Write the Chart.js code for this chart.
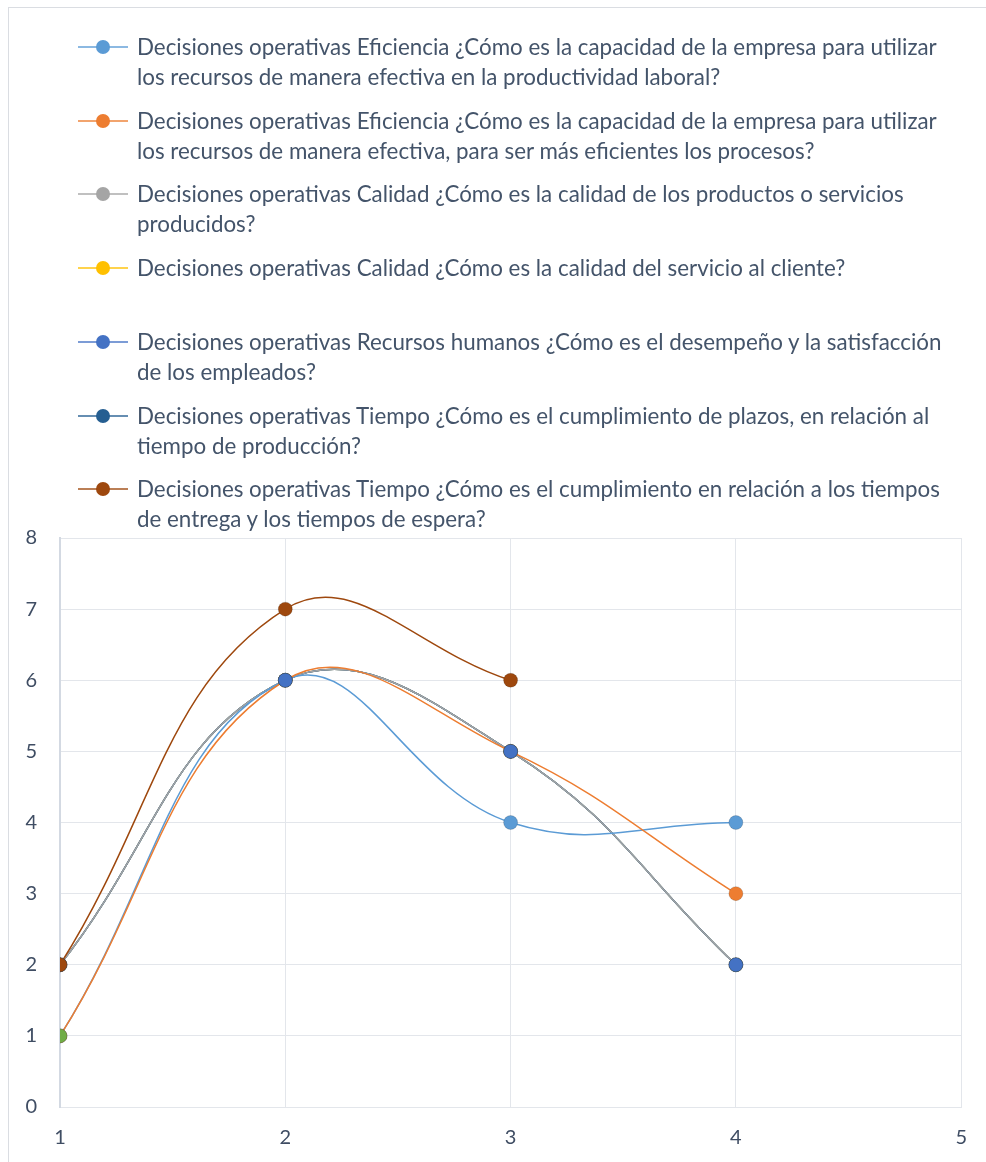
<!DOCTYPE html>
<html lang="es">
<head>
  <meta charset="UTF-8" />
  <title>Decisiones operativas</title>
  <script src="https://cdn.jsdelivr.net/npm/chart.js"></script>
  <style>
    body { margin: 0; background: #fff; font-family: Lato, 'Open Sans', sans-serif; }
    #wrap { position: relative; width: 986px; height: 1162px; overflow: hidden; }
    #frame { position: absolute; left: 8px; top: 7px; width: 1000px; height: 1200px; border: 1px solid #dadde2; }
    #chart { position: absolute; left: 0; top: 0; }
    .item { position: absolute; left: 0; width: 986px; }
    .mk { position: absolute; left: 78px; width: 50px; height: 2px; }
    .dot { position: absolute; left: 96px; width: 14px; height: 14px; border-radius: 50%; }
    .txt { position: absolute; left: 137px; color: #44546A; line-height: 30px; white-space: pre; }
  </style>
</head>
<body>
<div id="wrap">
  <div id="frame"></div>
  <canvas id="chart" width="986" height="1162"></canvas>
  <div id="legend"></div>
</div>
<script>
  // Eje X y series
  const xValues = [1, 2, 3, 4];
  const etiquetas = [
    'Decisiones operativas Eficiencia ¿Cómo es la capacidad de la empresa para utilizar\nlos recursos de manera efectiva en la productividad laboral?',
    'Decisiones operativas Eficiencia ¿Cómo es la capacidad de la empresa para utilizar\nlos recursos de manera efectiva, para ser más eficientes los procesos?',
    'Decisiones operativas Calidad ¿Cómo es la calidad de los productos o servicios\nproducidos?',
    'Decisiones operativas Calidad ¿Cómo es la calidad del servicio al cliente?',
    'Decisiones operativas Recursos humanos ¿Cómo es el desempeño y la satisfacción\nde los empleados?',
    'Decisiones operativas Tiempo ¿Cómo es el cumplimiento de plazos, en relación al\ntiempo de producción?',
    'Decisiones operativas Tiempo ¿Cómo es el cumplimiento en relación a los tiempos\nde entrega y los tiempos de espera?'
  ];
  const prodLaboral = [1, 6, 4, 4];
  const procesos = [1, 6, 5, 3];
  const calidadProductos = [2, 6, 5, 2];
  const calidadServicio = [2, 6, 5, 2];
  const recursosHumanos = [2, 6, 5, 2];
  const plazos = [2, 6, 5, 2];
  const entregaEspera = [2, 7, 6];
  const serieExtra = [1];  // punto verde sin leyenda

  const series = [prodLaboral, procesos, calidadProductos, calidadServicio, recursosHumanos, plazos, entregaEspera, serieExtra];
  const colores = ['#5B9BD5', '#ED7D31', '#A5A5A5', '#FFC000', '#4472C4', '#255E91', '#9E480E', '#70AD47'];
  const yTicks = [0, 1, 2, 3, 4, 5, 6, 7, 8];
  const xTicks = [1, 2, 3, 4, 5];
  // orden de dibujo (de abajo hacia arriba)
  const ordenLineas = [3, 4, 5, 2, 6, 0, 1, 7];
  const ordenMarcadores = [0, 1, 2, 3, 5, 4, 6, 7];

  const puntos = vals => vals.map((v, j) => ({ x: xValues[j], y: v }));

  // primero todas las líneas, luego los marcadores
  const lineas = series.map((vals, i) => ({
    data: puntos(vals),
    borderColor: colores[i],
    borderWidth: 1.5,
    pointRadius: 0,
    showLine: true,
    tension: 0.42,
    order: 100 - ordenLineas.indexOf(i)
  }));
  const marcadores = series.map((vals, i) => ({
    data: puntos(vals),
    showLine: false,
    pointRadius: 7,
    pointBackgroundColor: colores[i],
    pointBorderColor: 'rgba(0,0,0,0.15)',
    pointBorderWidth: 1,
    order: 50 - ordenMarcadores.indexOf(i)
  }));

  new Chart(document.getElementById('chart'), {
    type: 'scatter',
    data: { datasets: [...lineas, ...marcadores] },
    options: {
      responsive: false,
      animation: false,
      layout: { padding: { top: 538, right: 24, left: 0, bottom: 0 } },
      plugins: { legend: { display: false }, tooltip: { enabled: false } },
      scales: {
        x: {
          type: 'linear', min: 1, max: 5,
          afterFit: s => { s.height = 55; },
          afterBuildTicks: s => { s.ticks = xTicks.map(v => ({ value: v })); },
          grid: { color: '#E3E6EB', drawTicks: false },
          border: { color: '#E3E6EB' },
          ticks: { color: '#3F4D63', font: { family: 'Lato', size: 20 }, padding: 19 }
        },
        y: {
          min: 0, max: 8,
          afterFit: s => { s.width = 60; },
          afterBuildTicks: s => { s.ticks = yTicks.map(v => ({ value: v })); },
          grid: { color: '#E3E6EB', drawTicks: false },
          border: { color: '#D3D9E2', width: 2 },
          ticks: { color: '#3F4D63', font: { family: 'Lato', size: 20 }, padding: 23 }
        }
      }
    }
  });

  // Leyenda en HTML (texto con saltos de línea como en el original)
  const legend = document.getElementById('legend');
  const ctx = document.createElement('canvas').getContext('2d');
  ctx.font = '20px Lato';
  const w = ctx.measureText(etiquetas[0].split('\n')[0]).width;
  const fs = 20 * 800 / w;
  etiquetas.forEach((t, i) => {
    const top = 32 + i * 73.7;
    const item = document.createElement('div');
    item.className = 'item';
    item.style.top = top + 'px';
    item.innerHTML =
      `<div class="mk" style="top:14px;background:${colores[i]};opacity:0.7"></div>` +
      `<div class="dot" style="top:8px;background:${colores[i]}"></div>` +
      `<div class="txt" style="top:0;font-size:${fs}px"></div>`;
    item.querySelector('.txt').textContent = t;
    legend.appendChild(item);
  });
</script>
</body>
</html>
